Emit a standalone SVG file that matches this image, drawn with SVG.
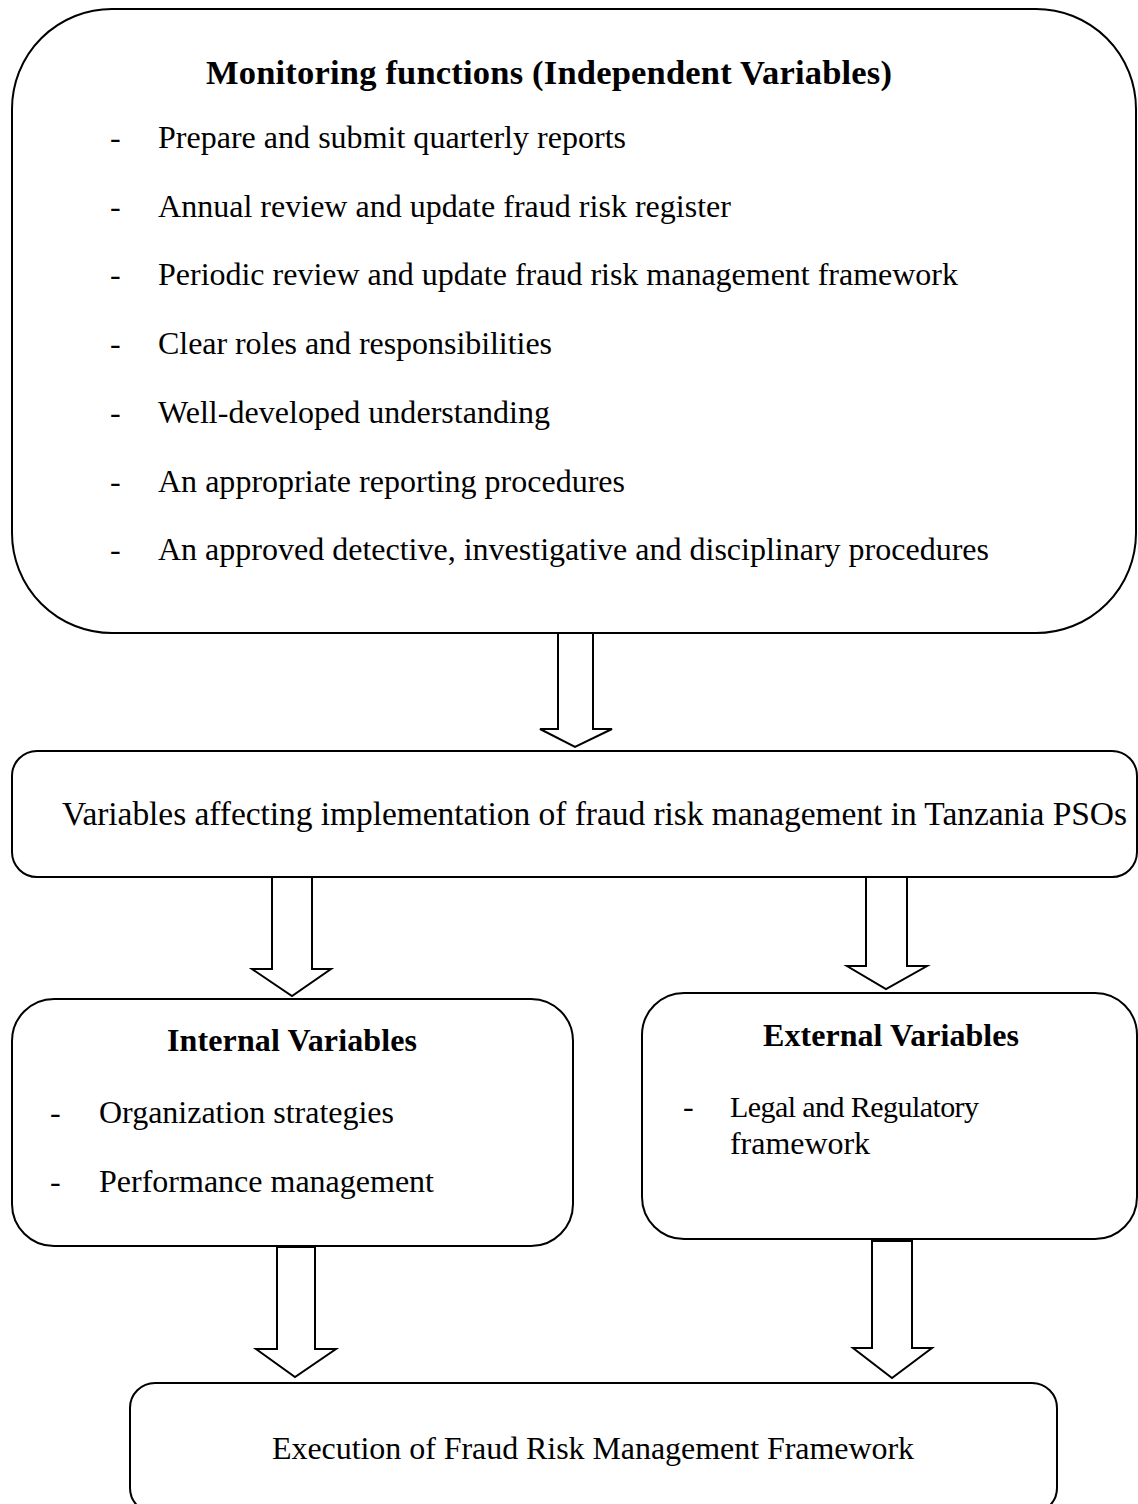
<svg xmlns="http://www.w3.org/2000/svg" width="1138" height="1504" viewBox="0 0 1138 1504">
<style>
.box{fill:#fff;stroke:#000;stroke-width:2}
.arr{fill:#fff;stroke:#000;stroke-width:2;stroke-linejoin:miter}
text{font-family:"Liberation Serif","Times New Roman",serif;font-size:32px;fill:#000}
.b{font-weight:bold}
</style>
<rect width="1138" height="1504" fill="#fff"/>
<g id="monitoring">
<rect class="box" x="12" y="9" width="1124" height="624" rx="100" ry="100"/>
<text class="b" x="206" y="84" style="font-size:34.5px" textLength="686">Monitoring functions (Independent Variables)</text>
<text x="110" y="148">-</text><text x="158" y="148" textLength="468">Prepare and submit quarterly reports</text>
<text x="110" y="217">-</text><text x="158" y="217" textLength="573">Annual review and update fraud risk register</text>
<text x="110" y="285">-</text><text x="158" y="285" textLength="800">Periodic review and update fraud risk management framework</text>
<text x="110" y="354">-</text><text x="158" y="354" textLength="394">Clear roles and responsibilities</text>
<text x="110" y="423">-</text><text x="158" y="423" textLength="392">Well-developed understanding</text>
<text x="110" y="492">-</text><text x="158" y="492" textLength="467">An appropriate reporting procedures</text>
<text x="110" y="560">-</text><text x="158" y="560" textLength="831">An approved detective, investigative and disciplinary procedures</text>
</g>
<g id="variables">
<rect class="box" x="12" y="751" width="1125" height="126" rx="25" ry="25"/>
<text x="62" y="825" style="font-size:33.5px" textLength="1065">Variables affecting implementation of fraud risk management in Tanzania PSOs</text>
</g>
<g id="internal">
<rect class="box" x="12" y="999" width="561" height="247" rx="42" ry="42"/>
<text class="b" x="167" y="1051" textLength="250">Internal Variables</text>
<text x="50" y="1123">-</text><text x="99" y="1123" textLength="295">Organization strategies</text>
<text x="50" y="1192">-</text><text x="99" y="1192" textLength="335">Performance management</text>
</g>
<g id="external">
<rect class="box" x="642" y="993" width="495" height="246" rx="42" ry="42"/>
<text class="b" x="763" y="1046" textLength="256">External Variables</text>
<text x="683" y="1117">-</text><text x="730" y="1117" style="font-size:30px" textLength="249">Legal and Regulatory</text>
<text x="730" y="1154" textLength="140">framework</text>
</g>
<g id="execution">
<rect class="box" x="130" y="1383" width="927" height="130" rx="25" ry="25"/>
<text x="272" y="1459" textLength="642">Execution of Fraud Risk Management Framework</text>
</g>
<g id="connectors">
<polygon class="arr" points="558,633 593,633 593,729 612,729 575,747 540,729 558,729"/>
<polygon class="arr" points="272,877 312,877 312,969 331,969 292,996 252,969 272,969"/>
<polygon class="arr" points="866,877 907,877 907,966 927,966 886,989 847,966 866,966"/>
<polygon class="arr" points="277,1247 315,1247 315,1349 336,1349 295,1377 256,1349 277,1349"/>
<polygon class="arr" points="872,1241 912,1241 912,1348 932,1348 892,1378 853,1348 872,1348"/>
</g>
</svg>
